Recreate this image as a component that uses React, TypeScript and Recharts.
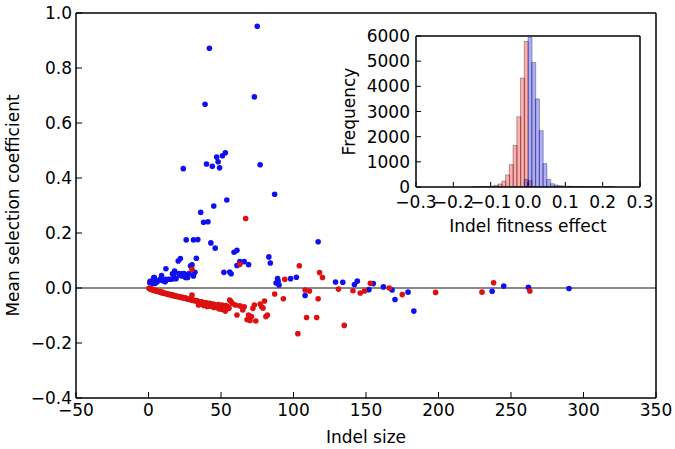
import React from 'react';
import { ScatterChart, Scatter, XAxis, YAxis, ReferenceLine, ComposedChart, Bar } from 'recharts';

const FONT = '"DejaVu Sans", sans-serif';
const FS = 17;

// Main scatter: [indel size, mean selection coefficient]
const bluePoints: [number, number][] = [
  [75, 0.952], [42, 0.872], [73, 0.695], [39, 0.668], [53, 0.492], [51, 0.481], [47, 0.476], [48, 0.459],
  [40, 0.451], [44, 0.443], [49, 0.437], [24, 0.434], [77, 0.448], [87, 0.341], [54, 0.32], [45, 0.298],
  [36, 0.275], [38, 0.239], [41, 0.241], [26, 0.175], [31, 0.175], [34, 0.176], [43, 0.164], [46, 0.145],
  [117, 0.168], [59, 0.13], [61, 0.137], [83, 0.113], [84, 0.091], [63, 0.096], [66, 0.096], [69, 0.085],
  [61, 0.082], [22, 0.107], [20.5, 0.098], [33, 0.108], [29, 0.08], [30, 0.084], [32, 0.057], [52, 0.057],
  [56, 0.058], [57, 0.052], [12, 0.07], [18, 0.062], [17.5, 0.051], [16.5, 0.052], [21, 0.053], [23, 0.052],
  [25.5, 0.038], [27, 0.038], [28, 0.053], [9, 0.045], [4, 0.038], [7.6, 0.029], [9.7, 0.027], [11.5, 0.023],
  [13.8, 0.032], [15.4, 0.032], [17, 0.034], [19, 0.034], [1.1, 0.024], [2.8, 0.017], [4.6, 0.017], [5.7, 0.024],
  [0.9, 0.019], [2.3, 0.025], [3.7, 0.038], [6, 0.023], [8.3, 0.033], [10.6, 0.027], [12, 0.032], [21.6, 0.047],
  [23, 0.044], [24.4, 0.053], [26, 0.047], [31, 0.044], [89, 0.034], [89.4, 0.025], [88, 0.018], [90, 0.011],
  [98, 0.034], [102, 0.039], [108, -0.027], [129, 0.022], [134, 0.021], [142, 0.013], [144, 0.025], [152, -0.006],
  [155, 0.016], [162, 0.004], [168, -0.007], [170, -0.042], [179, -0.015], [183, -0.084], [237, -0.012],
  [245, 0.007], [262, 0.003], [290, -0.002],
];

const redPoints: [number, number][] = [
  [0.3, -0.001], [0.8, -0.003], [1.2, -0.002], [1.8, -0.005], [2.3, -0.004], [2.9, -0.007], [3.4, -0.006],
  [4, -0.009], [4.6, -0.008], [5.1, -0.011], [5.7, -0.01], [6.2, -0.012], [6.9, -0.013], [7.5, -0.014],
  [8.1, -0.013], [8.7, -0.016], [9.3, -0.017], [9.9, -0.016], [10.6, -0.019], [11.2, -0.02], [11.9, -0.019],
  [12.6, -0.022], [13.3, -0.023], [14, -0.022], [14.8, -0.025], [15.5, -0.024], [16.3, -0.027], [17, -0.026],
  [17.8, -0.029], [18.6, -0.028], [19.4, -0.031], [20.2, -0.03], [21, -0.033], [21.9, -0.032], [22.8, -0.035],
  [23.7, -0.034], [24.6, -0.037], [25.5, -0.036], [26.4, -0.039], [27.3, -0.041], [28.3, -0.04], [29.2, -0.043],
  [30.2, -0.045], [31.2, -0.044], [32.2, -0.047], [33.3, -0.046], [34.3, -0.049], [35.4, -0.051], [36.5, -0.05],
  [37.6, -0.053], [38.7, -0.055], [39.9, -0.054], [41, -0.057], [42.2, -0.056], [43.4, -0.059], [44.6, -0.058],
  [45.8, -0.061], [47, -0.063], [48.3, -0.06], [49.5, -0.064], [50.8, -0.062], [52, -0.066], [53.3, -0.064],
  [54.6, -0.067],
  [30, -0.026], [34.5, -0.062], [38, -0.064], [40.5, -0.067], [43, -0.066], [45, -0.071], [47.5, -0.072],
  [49, -0.076], [51, -0.078], [53, -0.084], [55.5, -0.074], [56, -0.044], [57, -0.05], [58, -0.057], [60, -0.062],
  [61, -0.098], [63, -0.065], [65, -0.08], [66, -0.068], [68, -0.115], [69, -0.098], [70, -0.118], [71, -0.104],
  [72, -0.074], [73, -0.062], [74, -0.12], [77, -0.058], [78, -0.068], [79, -0.073], [80, -0.047], [81, -0.104],
  [82, -0.098], [87, -0.022], [93, -0.039],
  [67, 0.253], [63, 0.086], [30, 0.068], [94, 0.032], [104, 0.081], [118, 0.056], [120, 0.038], [238, 0.019],
  [153, 0.017],
  [108, -0.007], [111, -0.011], [117, -0.039], [109, -0.107], [116, -0.107], [103, -0.166], [135, -0.136],
  [131, -0.004], [141, -0.01], [146, -0.018], [149, -0.011], [166, 0.0], [175, -0.024], [198, -0.016],
  [230, -0.015], [263, -0.011],
];

const mainXTicks = [-50, 0, 50, 100, 150, 200, 250, 300, 350];
const mainYTicks = [-0.4, -0.2, 0, 0.2, 0.4, 0.6, 0.8, 1.0];

// Inset histogram
const binCenters = [
  -0.145, -0.135, -0.125, -0.115, -0.105, -0.095, -0.085, -0.075, -0.065, -0.055, -0.045, -0.035, -0.025,
  -0.015, -0.005, 0.005, 0.015, 0.025, 0.035, 0.045, 0.055, 0.065, 0.075, 0.085, 0.095, 0.105, 0.115, 0.125,
  0.135, 0.145, 0.155, 0.165, 0.175, 0.185, 0.195, 0.205, 0.215, 0.225,
];
const redCounts: (number | null)[] = [
  8, 10, 14, 18, 22, 35, 70, 120, 230, 480, 890, 1650, 2790, 4330, 5780, 250,
  null, null, null, null, null, null, null, null, null, null, null, null, null, null, null, null, null, null,
  null, null, null, null,
];
const blueCounts: (number | null)[] = [
  null, null, null, null, null, null, null, null, null, null, null, null, null, null, 300, 5950,
  4950, 3500, 2240, 930, 300, 130, 80, 50, 40, 30, 25, 20, 18, 15, 14, 12, 10, 10, 8, 8, 20, 6,
];
const insetXTicks = [-0.3, -0.2, -0.1, 0, 0.1, 0.2, 0.3];
const insetYTicks = [0, 1000, 2000, 3000, 4000, 5000, 6000];

const blueData = bluePoints.map(([x, y]) => ({ x, y }));
const redData = redPoints.map(([x, y]) => ({ x, y }));
const histData = binCenters.map((x, i) => ({ x, red: redCounts[i], blue: blueCounts[i] }));

const fmtInt = (v: number) => (v < 0 ? '\u2212' + Math.abs(v) : String(v));
const fmt1 = (v: number) => (v < -1e-9 ? '\u2212' : '') + Math.abs(v).toFixed(1);

const tickStyle = { fill: '#000', fontSize: FS, fontFamily: FONT };
const axisLine = { stroke: '#000', strokeWidth: 1.5 };
const tickLine = { stroke: '#000', strokeWidth: 1 };

const dot = (color: string) => (p: any) => <circle cx={p.cx} cy={p.cy} r={2.8} fill={color} />;

export default function App() {
  return (
    <div style={{ position: 'absolute', left: 0, top: 0, width: 675, height: 449, background: '#fff', overflow: 'hidden' }}>
      <div style={{ position: 'absolute', left: 0, top: 0 }}>
        <ScatterChart width={675} height={449} margin={{ top: 12, right: 18, bottom: 0, left: 0 }}>
          <XAxis
            xAxisId="b" type="number" dataKey="x" domain={[-50, 350]} ticks={mainXTicks} interval={0}
            tickSize={-6} tickMargin={12} height={51} axisLine={axisLine} tickLine={tickLine}
            tick={tickStyle} tickFormatter={fmtInt} allowDataOverflow
            label={{ value: 'Indel size', position: 'insideBottom', offset: 6, fill: '#000', fontSize: FS, fontFamily: FONT }}
          />
          <XAxis
            xAxisId="t" orientation="top" type="number" domain={[-50, 350]} ticks={mainXTicks} interval={0}
            tickSize={-6} height={1} axisLine={axisLine} tickLine={tickLine} tick={false} allowDataOverflow
          />
          <YAxis
            yAxisId="l" type="number" dataKey="y" domain={[-0.4, 1.0]} ticks={mainYTicks} interval={0}
            tickSize={-6} tickMargin={10} width={76} axisLine={axisLine} tickLine={tickLine}
            tick={tickStyle} tickFormatter={fmt1} allowDataOverflow
            label={{ value: 'Mean selection coefficient', angle: -90, position: 'insideLeft', offset: 13, fill: '#000', fontSize: FS, fontFamily: FONT, style: { textAnchor: 'middle' } }}
          />
          <YAxis
            yAxisId="r" orientation="right" type="number" domain={[-0.4, 1.0]} ticks={mainYTicks} interval={0}
            tickSize={-6} width={1} axisLine={axisLine} tickLine={tickLine} tick={false} allowDataOverflow
          />
          <ReferenceLine xAxisId="b" yAxisId="l" y={0} stroke="#888" strokeWidth={1.8} />
          <Scatter data={blueData} xAxisId="b" yAxisId="l" fill="#1010ee" shape={dot('#1010ee')} isAnimationActive={false} />
          <Scatter data={redData} xAxisId="b" yAxisId="l" fill="#dd1111" shape={dot('#dd1111')} isAnimationActive={false} />
        </ScatterChart>
      </div>
      <div style={{ position: 'absolute', left: 330, top: 20 }}>
        <ComposedChart width={335} height={225} data={histData} margin={{ top: 15, right: 24, bottom: 0, left: 0 }} barGap={0} barCategoryGap={0}>
          <XAxis
            xAxisId="r" type="number" dataKey="x" domain={[-0.3, 0.3]} ticks={insetXTicks} interval={0}
            tickSize={-5} tickMargin={14} height={58} axisLine={axisLine} tickLine={tickLine}
            tick={tickStyle} tickFormatter={fmt1} allowDataOverflow
            label={{ value: 'Indel fitness effect', position: 'insideBottom', offset: 13, fill: '#000', fontSize: FS, fontFamily: FONT }}
          />
          <XAxis
            xAxisId="t" orientation="top" type="number" dataKey="x" domain={[-0.3, 0.3]} ticks={insetXTicks} interval={0}
            tickSize={-5} height={1} axisLine={axisLine} tickLine={tickLine} tick={false} allowDataOverflow
          />
          <YAxis
            yAxisId="l" type="number" domain={[0, 6000]} ticks={insetYTicks} interval={0}
            tickSize={-5} tickMargin={11} width={86} axisLine={axisLine} tickLine={tickLine}
            tick={tickStyle} allowDataOverflow
            label={{ value: 'Frequency', angle: -90, position: 'insideLeft', offset: 18.5, fill: '#000', fontSize: FS, fontFamily: FONT, style: { textAnchor: 'middle' } }}
          />
          <YAxis
            yAxisId="r" orientation="right" type="number" domain={[0, 6000]} ticks={insetYTicks} interval={0}
            tickSize={-5} width={1} axisLine={axisLine} tickLine={tickLine} tick={false} allowDataOverflow
          />
          <Bar dataKey="red" xAxisId="r" yAxisId="l" fill="#ff0000" fillOpacity={0.32} stroke="#000" strokeOpacity={0.32} strokeWidth={1} isAnimationActive={false} />
          <Bar dataKey="blue" xAxisId="t" yAxisId="l" fill="#0000ff" fillOpacity={0.32} stroke="#000" strokeOpacity={0.32} strokeWidth={1} isAnimationActive={false} />
        </ComposedChart>
      </div>
    </div>
  );
}
